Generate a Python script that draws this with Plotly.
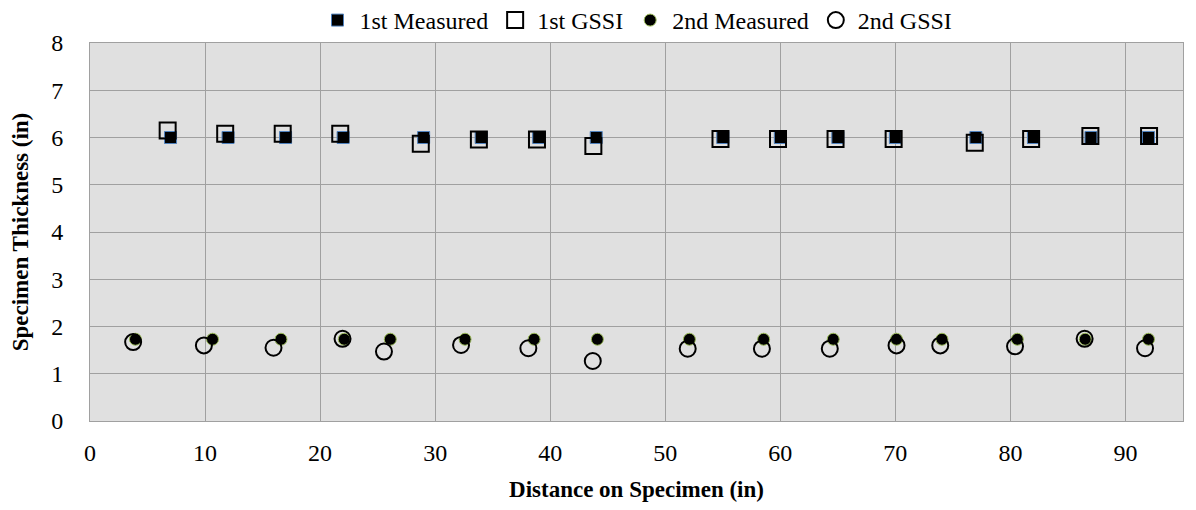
import plotly.graph_objects as go

# 1st pass (upper) readings
first_measured_x = [7, 12, 17, 22, 29, 34, 39, 44, 55, 60, 65, 70, 77, 82, 87, 92]
first_measured_y = [6.0, 6.0, 6.0, 6.0, 6.0, 6.0, 6.0, 6.0, 6.0, 6.0, 6.0, 6.0, 6.0, 6.0, 6.0, 6.0]
first_gssi_x = [6.75, 11.75, 16.75, 21.75, 28.75, 33.8, 38.85, 43.75, 54.8, 59.8, 64.8, 69.85, 76.9, 81.8, 86.95, 92.05]
first_gssi_y = [6.15, 6.08, 6.08, 6.08, 5.87, 5.96, 5.96, 5.82, 5.97, 5.97, 5.97, 5.97, 5.89, 5.97, 6.03, 6.03]

# 2nd pass (lower) readings
second_measured_x = [3.95, 10.65, 16.6, 22.1, 26.1, 32.6, 38.6, 44.1, 52.1, 58.55, 64.6, 70.1, 74.05, 80.6, 86.5, 92.0]
second_measured_y = [1.73] * 16
second_gssi_x = [3.75, 9.9, 15.95, 21.95, 25.55, 32.25, 38.1, 43.7, 51.95, 58.4, 64.3, 70.1, 73.9, 80.4, 86.45, 91.7]
second_gssi_y = [1.67, 1.6, 1.55, 1.74, 1.47, 1.61, 1.54, 1.27, 1.53, 1.53, 1.53, 1.6, 1.6, 1.58, 1.74, 1.54]

font_family = "Liberation Serif, Times New Roman, serif"

fig = go.Figure()

fig.add_trace(go.Scatter(
    x=first_measured_x, y=first_measured_y, mode="markers", name="1st Measured",
    marker=dict(symbol="square", size=12, color="black", line=dict(color="#4F81BD", width=1)),
))
fig.add_trace(go.Scatter(
    x=first_gssi_x, y=first_gssi_y, mode="markers", name="1st GSSI",
    marker=dict(symbol="square-open", size=16, color="black", line=dict(width=2)),
))
fig.add_trace(go.Scatter(
    x=second_measured_x, y=second_measured_y, mode="markers", name="2nd Measured",
    marker=dict(symbol="circle", size=12, color="black", line=dict(color="#9BBB59", width=1)),
))
fig.add_trace(go.Scatter(
    x=second_gssi_x, y=second_gssi_y, mode="markers", name="2nd GSSI",
    marker=dict(symbol="circle-open", size=16, color="black", line=dict(width=2)),
))

# page body adds an 8px margin, so the figure is a bit smaller than the window
fig.update_layout(
    width=1180, height=494,
    margin=dict(l=82, r=5, t=35, b=81, autoexpand=False),
    paper_bgcolor="white",
    plot_bgcolor="#E0E0E0",
    font=dict(family=font_family, size=24, color="black"),
    showlegend=True,
    legend=dict(
        orientation="h", x=0.5, xanchor="center",
        y=1.0, yanchor="bottom",
        font=dict(size=24), itemwidth=34, traceorder="normal",
        bgcolor="rgba(0,0,0,0)",
    ),
    xaxis=dict(
        range=[0, 95], dtick=10, tick0=0,
        showgrid=True, gridcolor="#A0A0A0", gridwidth=1,
        showline=True, linecolor="#A0A0A0", linewidth=1, mirror=True,
        zeroline=False, ticks="", ticklabelstandoff=10,
        title=dict(text="<b>Distance on Specimen (in)</b>", font=dict(size=23), standoff=21),
    ),
    yaxis=dict(
        range=[0, 8], dtick=1, tick0=0,
        showgrid=True, gridcolor="#A0A0A0", gridwidth=1,
        showline=True, linecolor="#A0A0A0", linewidth=1, mirror=True,
        zeroline=False, ticks="", ticklabelstandoff=21,
        title=dict(text="<b>Specimen Thickness (in)</b>", font=dict(size=23), standoff=24),
    ),
)

fig.write_html("out.html")
